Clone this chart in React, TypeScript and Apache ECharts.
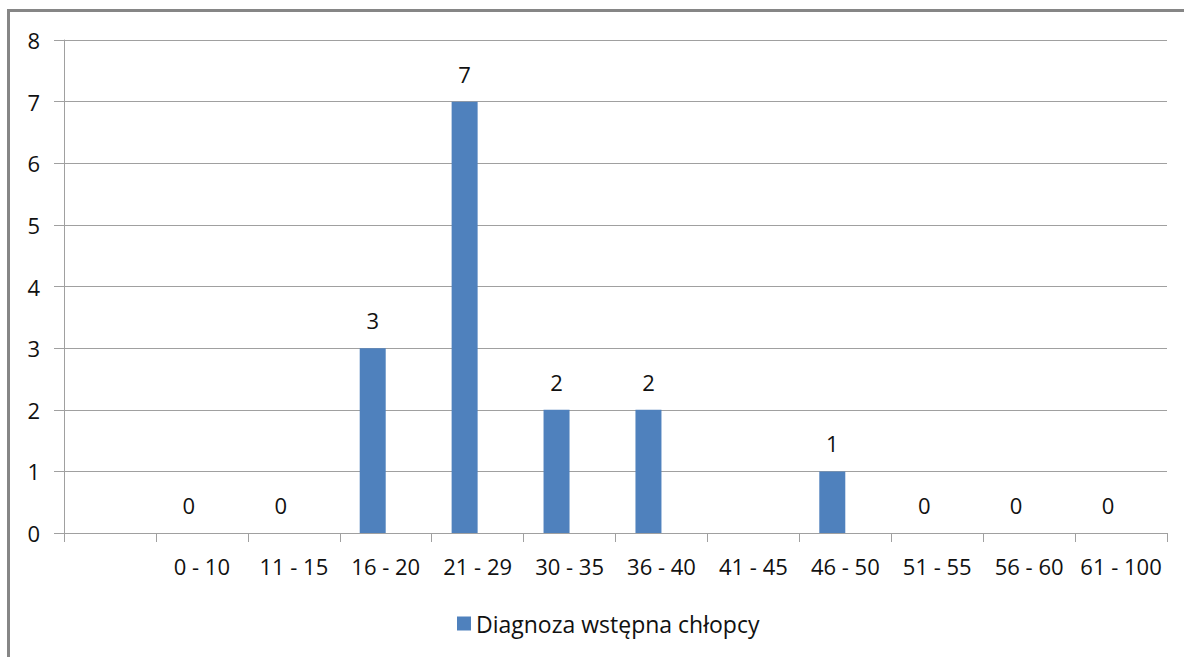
import React, { useEffect, useRef } from "react";
import * as echarts from "echarts";

const categories = ["", "0 - 10", "11 - 15", "16 - 20", "21 - 29", "30 - 35", "36 - 40", "41 - 45", "46 - 50", "51 - 55", "56 - 60", "61 - 100"];
const values: (number | null)[] = [null, 0, 0, 3, 7, 2, 2, null, 1, 0, 0, 0];
const emptySeries: (number | null)[] = categories.map(() => null);
const seriesName = "Diagnoza wstępna chłopcy";

const FONT = "Open Sans";
const FS = 22;
const TXT = "#111111";

export default function App() {
  const ref = useRef<HTMLDivElement>(null);
  useEffect(() => {
    if (!ref.current) return;
    const chart = echarts.init(ref.current, null, { renderer: "svg" });
    chart.setOption({
      animation: false,
      backgroundColor: "#ffffff",
      textStyle: { fontFamily: FONT },
      graphic: [
        {
          type: "rect",
          shape: { x: 8.5, y: 10.5, width: 1300, height: 800 },
          style: { fill: "none", stroke: "#868686", lineWidth: 3 },
          silent: true,
        },
      ],
      grid: { left: 64, right: 17, top: 40, bottom: 124, containLabel: false },
      legend: {
        data: [seriesName],
        top: 607,
        left: 452,
        icon: "rect",
        itemWidth: 14,
        itemHeight: 14,
        itemGap: 10,
        textStyle: { fontFamily: FONT, fontSize: 23, color: TXT },
      },
      xAxis: {
        type: "category",
        data: categories,
        boundaryGap: true,
        axisLine: { show: true, lineStyle: { color: "#a0a0a0", width: 1 } },
        axisTick: { show: true, alignWithLabel: false, length: 9, lineStyle: { color: "#a0a0a0" } },
        axisLabel: { interval: 0, margin: 22, fontFamily: FONT, fontSize: FS, color: TXT },
        splitLine: { show: false },
      },
      yAxis: {
        type: "value",
        min: 0,
        max: 8,
        interval: 1,
        axisLine: { show: true, lineStyle: { color: "#a0a0a0", width: 1 } },
        axisTick: { show: true, length: 10, lineStyle: { color: "#a0a0a0" } },
        axisLabel: { margin: 24, fontFamily: FONT, fontSize: FS, color: TXT },
        splitLine: { show: true, lineStyle: { color: "#a0a0a0", width: 1 } },
      },
      series: [
        {
          name: seriesName,
          type: "bar",
          data: values,
          barWidth: 26,
          barGap: "0%",
          itemStyle: { color: "#4f81bd" },
          label: {
            show: true,
            position: "top",
            distance: 17,
            fontFamily: FONT,
            fontSize: FS,
            color: TXT,
          },
        },
        {
          name: "",
          type: "bar",
          data: emptySeries,
          barWidth: 26,
          barGap: "0%",
          itemStyle: { color: "#c0504d" },
        },
      ],
    });
    return () => chart.dispose();
  }, []);
  return (
    <div
      ref={ref}
      style={{ position: "absolute", left: 0, top: 0, width: 1184, height: 657 }}
    />
  );
}
